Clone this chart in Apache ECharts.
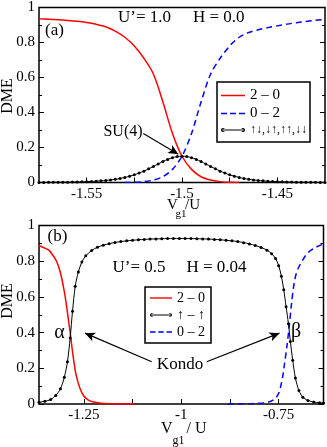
<!DOCTYPE html>
<html><head><meta charset="utf-8">
<script src="https://cdn.jsdelivr.net/npm/echarts@6/dist/echarts.min.js"></script>
<style>html,body{margin:0;padding:0;background:#fff}#c{width:327px;height:447px}</style>
</head><body><div id="c"></div>
<script>
// ---------- Panel (a) data ----------
const aRedX = [-1.575,-1.57,-1.565,-1.56,-1.555,-1.55,-1.545,-1.54,-1.535,-1.53,-1.525,-1.52,-1.515,-1.51,-1.505,-1.5,-1.495,-1.49,-1.485,-1.48,-1.475,-1.47];
const aRedY = [0.935,0.933,0.930,0.926,0.921,0.914,0.904,0.890,0.865,0.83,0.78,0.71,0.62,0.46,0.28,0.15,0.075,0.033,0.014,0.005,0.001,0];
const aBlueX = [-1.53,-1.525,-1.52,-1.515,-1.51,-1.505,-1.5,-1.495,-1.49,-1.485,-1.48,-1.475,-1.47,-1.465,-1.46,-1.455,-1.45,-1.445,-1.44,-1.435,-1.43,-1.425];
const aBlueY = [0,0.001,0.005,0.014,0.033,0.075,0.15,0.28,0.46,0.62,0.71,0.78,0.83,0.857,0.873,0.885,0.895,0.905,0.913,0.92,0.927,0.932];
const aBlackX = [-1.575,-1.5725,-1.57,-1.5675,-1.565,-1.5625,-1.56,-1.5575,-1.555,-1.5525,-1.55,-1.5475,-1.545,-1.5425,-1.54,-1.5375,-1.535,-1.5325,-1.53,-1.5275,-1.525,-1.5225,-1.52,-1.5175,-1.515,-1.5125,-1.51,-1.5075,-1.505,-1.5025,-1.5,
  -1.4975,-1.495,-1.4925,-1.49,-1.4875,-1.485,-1.4825,-1.48,-1.4775,-1.475,-1.4725,-1.47,-1.4675,-1.465,-1.4625,-1.46,-1.4575,-1.455,-1.4525,-1.45,-1.4475,-1.445,-1.4425,-1.44,-1.4375,-1.435,-1.4325,-1.43,-1.4275,-1.425];
const aBlackY = [0.0005,0.0006,0.0008,0.001,0.0012,0.0015,0.0019,0.0024,0.003,0.0038,0.0048,0.006,0.0075,0.0095,0.012,0.015,0.018,0.023,0.029,0.036,0.044,0.054,0.065,0.078,0.092,0.106,0.12,0.132,0.142,0.148,0.15,
  0.148,0.142,0.132,0.12,0.106,0.092,0.078,0.065,0.054,0.044,0.036,0.029,0.023,0.018,0.015,0.012,0.0095,0.0075,0.006,0.0048,0.0038,0.003,0.0024,0.0019,0.0015,0.0012,0.001,0.0008,0.0006,0.0005];
const aTickLabels = [-1.55,-1.5,-1.45];
const aTicks = [-1.55,-1.525,-1.5,-1.475,-1.45];
const aArrow = [[-1.5203,0.28],[-1.5019,0.162]];

// ---------- Panel (b) data ----------
const bRedX = [-1.367,-1.355,-1.34,-1.33,-1.32,-1.31,-1.3,-1.295,-1.29,-1.285,-1.28,-1.275,-1.27,-1.26,-1.25,-1.24,-1.23,-1.21,-1.18,-1.15,-1.12];
const bRedY = [0.888,0.878,0.862,0.835,0.80,0.735,0.63,0.56,0.48,0.40,0.31,0.23,0.165,0.088,0.045,0.025,0.014,0.006,0.002,0.001,0];
const bBlueX = [-0.88,-0.82,-0.79,-0.77,-0.758,-0.75,-0.745,-0.74,-0.736,-0.729,-0.723,-0.717,-0.711,-0.705,-0.698,-0.69,-0.68,-0.67,-0.659,-0.648,-0.635];
const bBlueY = [0,0.002,0.006,0.015,0.032,0.06,0.097,0.15,0.209,0.321,0.433,0.564,0.667,0.73,0.769,0.80,0.835,0.857,0.872,0.885,0.896];
const bBlackX = [-1.365,-1.35,-1.335,-1.322,-1.31,-1.3,-1.292,-1.285,-1.279,-1.272,-1.264,-1.255,-1.245,-1.23,-1.215,-1.2,-1.185,-1.17,-1.155,-1.14,-1.125,-1.11,-1.095,-1.08,-1.065,-1.05,-1.035,-1.02,-1.005,
  -0.99,-0.975,-0.96,-0.945,-0.93,-0.915,-0.9,-0.885,-0.87,-0.855,-0.84,-0.825,-0.81,-0.795,-0.78,-0.768,-0.758,-0.75,-0.743,-0.737,-0.731,-0.725,-0.72,-0.714,-0.707,-0.698,-0.688,-0.675,-0.66,-0.645,-0.635];
const bBlackY = [0.010,0.015,0.025,0.048,0.085,0.15,0.237,0.37,0.52,0.66,0.74,0.795,0.83,0.86,0.878,0.89,0.898,0.905,0.91,0.914,0.917,0.92,0.922,0.924,0.925,0.926,0.927,0.927,0.927,
  0.927,0.927,0.926,0.925,0.924,0.922,0.92,0.917,0.914,0.91,0.904,0.897,0.888,0.877,0.862,0.842,0.815,0.775,0.715,0.64,0.545,0.45,0.35,0.245,0.145,0.075,0.038,0.02,0.011,0.007,0.005];
const bTickLabels = [-1.25,-1,-0.75];
const bTicks = [-1.25,-1.125,-1,-0.875,-0.75];
const bArrowL = [[-1.0758,0.237],[-1.247,0.397]];
const bArrowR = [[-0.9347,0.237],[-0.748,0.397]];

const names = {r:'2 \u2013 0', b:'0 \u2013 2', ka:'\u2191\u2193,\u2193\u2191,\u2191\u2191,\u2193\u2193', kb:'\u2191 \u2013 \u2191'};

const zip = (xs, ys) => xs.map((x, i) => [x, ys[i]]);
const FF = '"Liberation Serif", "DejaVu Serif", serif';
const solidIcon = 'path://M0,0H24V1.5H0Z';
const dashIcon = 'path://M0,0H6V1.5H0ZM9,0H15V1.5H9ZM18,0H24V1.5H18Z';
const dotLineIcon = 'path://M1.5,1.5H22.5V2.5H1.5ZM0,2a2,2 0 1 0 4,0a2,2 0 1 0 -4,0ZM20,2a2,2 0 1 0 4,0a2,2 0 1 0 -4,0Z';

function xAx(gi, min, max, ticks, labels) {
  return {type:'value', gridIndex:gi, min:min, max:max,
    axisLine:{show:false}, splitLine:{show:false},
    axisTick:{show:true, inside:true, length:5, customValues:ticks, lineStyle:{color:'#000', width:1}},
    axisLabel:{customValues:labels, color:'#000', fontFamily:FF, fontSize:15, margin:4}};
}
function yAx(gi, right) {
  return {type:'value', gridIndex:gi, min:0, max:1, interval:0.2, position: right ? 'right' : 'left',
    axisLine:{show:false}, splitLine:{show:false},
    axisTick:{show:true, inside:true, length:5, lineStyle:{color:'#000', width:1}},
    minorTick:{show:true, splitNumber:2, length:3, lineStyle:{color:'#000', width:1}},
    axisLabel:{show:!right, color:'#000', fontFamily:FF, fontSize:15, margin:4}};
}
const arrowML = (pairs) => ({silent:true, symbol:['none','arrow'], symbolSize:[7,10], animation:false,
  label:{show:false}, lineStyle:{color:'#000', width:1.2, type:'solid'},
  data: pairs.map(p => [{coord:p[0]}, {coord:p[1]}])});

const mk = (t, x, y, size, align, rot) => ({type:'text', x:x, y:y, rotation: rot || 0, silent:true,
  style:{text:t, font: size + 'px ' + FF, fill:'#000', align:align, verticalAlign:'middle', textAlign:align, textVerticalAlign:'middle'}});
const txt = (t, x, y, size) => mk(t, x, y, size, 'left', 0);
const txtC = (t, x, y, size, rot) => mk(t, x, y, size, 'center', rot);

const chart = echarts.init(document.getElementById('c'), null, {renderer:'canvas'});
chart.setOption({
  animation:false,
  backgroundColor:'#fff',
  grid:[
    {left:39, top:5.5, width:286, height:177, show:true, borderColor:'#000', borderWidth:1.5, backgroundColor:'transparent'},
    {left:39, top:225.5, width:284.5, height:178.5, show:true, borderColor:'#000', borderWidth:1.5, backgroundColor:'transparent'}
  ],
  xAxis:[ xAx(0, -1.575, -1.425, aTicks, aTickLabels), xAx(1, -1.365, -0.635, bTicks, bTickLabels) ],
  yAxis:[ yAx(0,false), yAx(0,true), yAx(1,false), yAx(1,true) ],
  legend:[
    {left:217, top:82, orient:'vertical', padding:[6,3,6,4], itemGap:3, itemWidth:24, itemHeight:14,
     borderColor:'#000', borderWidth:1.5, backgroundColor:'#fff', selectedMode:false, symbolKeepAspect:true,
     textStyle:{color:'#000', fontFamily:FF, fontSize:15, rich:{s:{fontSize:12, fontFamily:FF, color:'#000'}}},
     formatter: n => n === names.ka ? '{s|' + n + '}' : n,
     data:[{name:names.r, icon:solidIcon}, {name:names.b, icon:dashIcon}, {name:names.ka, icon:dotLineIcon}]},
    {left:145, top:287, orient:'vertical', padding:[4,6,4,5], itemGap:3, itemWidth:22, itemHeight:14,
     borderColor:'#000', borderWidth:1.5, backgroundColor:'#fff', selectedMode:false, symbolKeepAspect:true,
     textStyle:{color:'#000', fontFamily:FF, fontSize:14},
     data:[{name:names.r, icon:solidIcon}, {name:names.kb, icon:dotLineIcon}, {name:names.b, icon:dashIcon}]}
  ],
  series:[
    {name:names.r, type:'line', xAxisIndex:0, yAxisIndex:0, data:zip(aRedX,aRedY), smooth:0.3, symbol:'none',
     lineStyle:{color:'#ff0000', width:1.5}, itemStyle:{color:'#ff0000'}, z:3},
    {name:names.b, type:'line', xAxisIndex:0, yAxisIndex:0, data:zip(aBlueX,aBlueY), smooth:0.3, symbol:'none',
     lineStyle:{color:'#0000ff', width:1.5, type:[6,4]}, itemStyle:{color:'#0000ff'}, z:3},
    {name:names.ka, type:'line', xAxisIndex:0, yAxisIndex:0, data:zip(aBlackX,aBlackY), smooth:0.3, symbol:'circle', symbolSize:3, showSymbol:true,
     lineStyle:{color:'#000', width:1}, itemStyle:{color:'#000'}, z:4, markLine: arrowML([aArrow])},
    {name:names.r, type:'line', xAxisIndex:1, yAxisIndex:2, data:zip(bRedX,bRedY), smooth:0.3, symbol:'none',
     lineStyle:{color:'#ff0000', width:1.5}, itemStyle:{color:'#ff0000'}, z:3},
    {name:names.b, type:'line', xAxisIndex:1, yAxisIndex:2, data:zip(bBlueX,bBlueY), smooth:0.3, symbol:'none',
     lineStyle:{color:'#0000ff', width:1.5, type:[6,4]}, itemStyle:{color:'#0000ff'}, z:3},
    {name:names.kb, type:'line', xAxisIndex:1, yAxisIndex:2, data:zip(bBlackX,bBlackY), smooth:0.3, symbol:'circle', symbolSize:3, showSymbol:true,
     lineStyle:{color:'#000', width:1}, itemStyle:{color:'#000'}, z:4, markLine: arrowML([bArrowL, bArrowR])}
  ],
  graphic:[
    txt('(a)', 45, 31, 17),
    txt('U\u2019= 1.0', 118, 17.5, 17),
    txt('H = 0.0', 193, 17.5, 17),
    txtC('SU(4)', 123, 132, 16),
    txtC('DME', 8, 96, 16, Math.PI/2),
    txt('V', 167, 205, 15),
    txt('g1', 175.5, 214, 11),
    txt('/U', 185, 205, 15),
    txt('(b)', 47.5, 236.5, 17),
    txt('U\u2019= 0.5', 112.5, 267.5, 17),
    txt('H = 0.04', 186.5, 267.5, 17),
    txtC('\u03b1', 59.5, 333, 20),
    txtC('\u03b2', 296, 332, 20),
    txtC('Kondo', 180, 365, 17),
    txtC('DME', 8, 301, 16, Math.PI/2),
    txt('V', 161, 429, 16),
    txt('g1', 172.5, 441, 12),
    txt('/ U', 186.5, 429, 16)
  ]
});
</script></body></html>
